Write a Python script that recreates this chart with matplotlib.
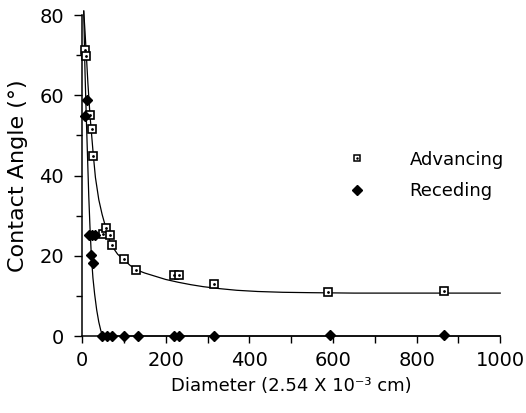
import matplotlib
matplotlib.use("Agg")
import matplotlib.pyplot as plt
from matplotlib.ticker import MultipleLocator
from matplotlib.lines import Line2D

# ---- data ----
adv_x = [8, 10, 19, 23, 27, 50, 58, 68, 72, 100, 130, 220, 233, 315, 587, 865]
adv_y = [71.2, 69.8, 55.2, 51.7, 44.8, 25.4, 27.0, 25.2, 22.6, 19.1, 16.4, 15.2, 15.2, 12.9, 10.9, 11.1]

rec_x = [6, 12, 17, 24, 31, 21, 25, 47, 59, 71, 100, 133, 221, 233, 315, 592, 865]
rec_y = [54.9, 58.9, 25.2, 25.2, 25.2, 20.2, 18.1, 0, 0, 0, 0, 0, 0, 0, 0, 0.2, 0.3]

# fitted curves
adv_fit_x = [4, 7, 10, 14, 19, 23, 27, 32, 40, 48, 56, 62, 68, 75, 85, 100, 115, 130, 150, 175,
             200, 230, 260, 290, 330, 370, 420, 480, 550, 650, 800, 1000]
adv_fit_y = [81, 76, 70.5, 63, 55, 50, 45, 39.5, 34, 30.3, 27.3, 25.0, 23.2, 21.9, 20.4, 19.0, 17.6, 16.5, 15.7, 14.9,
             14.1, 13.4, 12.8, 12.3, 11.8, 11.4, 11.1, 10.9, 10.8, 10.7, 10.7, 10.7]

rec_fit_x = [4, 7, 10, 13, 16, 19, 22, 26, 30, 35, 40, 45, 50, 1000]
rec_fit_y = [81, 66, 55, 45, 35, 27, 20.5, 14.5, 10.5, 6.5, 3.5, 1.3, 0, 0]

x_ticks = [0, 200, 400, 600, 800, 1000]
y_ticks = [0, 20, 40, 60, 80]

plt.rcParams['font.family'] = ['DejaVu Sans']

fig = plt.figure(figsize=(5.26, 4.13), dpi=100)
ax = fig.add_axes([0.156, 0.1864, 0.795, 0.777])

ax.plot(adv_fit_x, adv_fit_y, color='black', lw=0.9, clip_on=False, zorder=2)
ax.plot(rec_fit_x, rec_fit_y, color='black', lw=0.9, clip_on=False, zorder=2)

ax.plot(adv_x, adv_y, ls='none', marker='s', ms=5.5, mfc='white', mec='black', mew=1.2, zorder=3, clip_on=False)
ax.plot(adv_x, adv_y, ls='none', marker='.', ms=2.0, color='black', zorder=4, clip_on=False)
ax.plot(rec_x, rec_y, ls='none', marker='D', ms=5.5, color='black', zorder=3, clip_on=False)

ax.set_xlim(0, 1000)
ax.set_ylim(0, 80)
ax.set_xticks(x_ticks)
ax.set_yticks(y_ticks)
ax.xaxis.set_minor_locator(MultipleLocator(100))
ax.yaxis.set_minor_locator(MultipleLocator(10))

for s in ['top', 'right']:
    ax.spines[s].set_visible(False)
for s in ['left', 'bottom']:
    ax.spines[s].set_linewidth(1.1)

ax.tick_params(axis='x', which='both', direction='out', length=5, width=1.0, labelsize=14, pad=6)
ax.tick_params(axis='y', which='major', direction='out', length=6, width=1.0, labelsize=14, pad=7)
ax.tick_params(axis='y', which='minor', direction='out', length=4, width=1.0)

ax.set_xlabel('Diameter (2.54 X 10⁻³ cm)', fontsize=13, labelpad=5)
ax.set_ylabel('Contact Angle (°)', fontsize=16, labelpad=8)

h_adv = (Line2D([], [], ls='none', marker='s', ms=4.5, mfc='white', mec='black', mew=1.1),
         Line2D([], [], ls='none', marker='.', ms=1.6, color='black'))
h_rec = Line2D([], [], ls='none', marker='D', ms=5.5, color='black')
ax.legend([h_adv, h_rec], ['Advancing', 'Receding'], loc='center left',
          bbox_to_anchor=(0.593, 0.50), frameon=False, fontsize=13,
          handletextpad=2.3, labelspacing=0.75, handlelength=1.2)

fig.savefig('out.png', dpi=100)
